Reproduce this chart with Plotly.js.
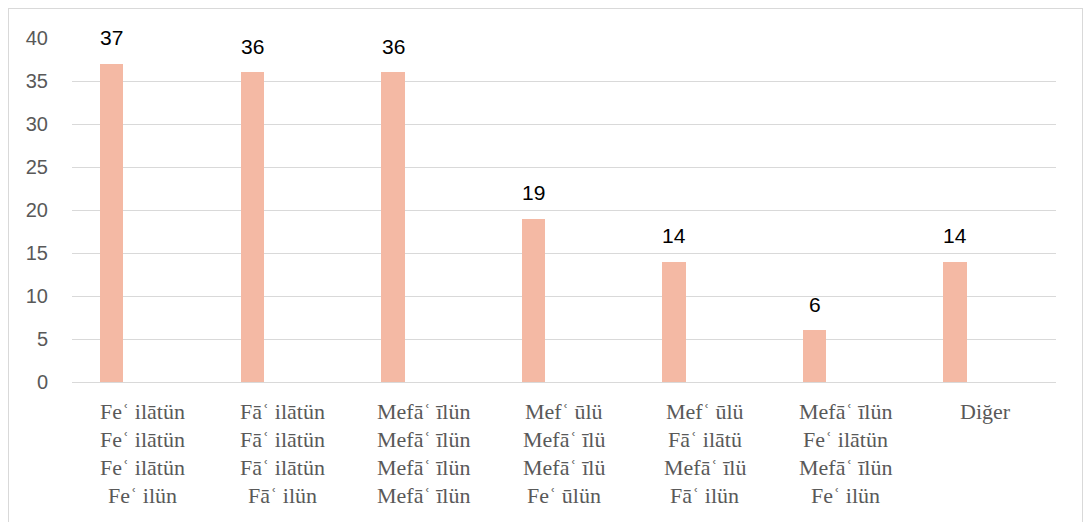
<!DOCTYPE html>
<html>
<head>
<meta charset="utf-8">
<script src="https://cdn.plot.ly/plotly-3.0.1.min.js"></script>
<style>
  html, body { margin: 0; padding: 0; background: #fff; }
  #wrap { position: relative; width: 1085px; height: 522px; overflow: hidden; }
  #chart { position: absolute; left: 0; top: 0; width: 1085px; height: 522px; }
  #frame { position: absolute; left: 8px; top: 8px; width: 1075px; height: 530px;
           border: 1px solid #d9d9d9; box-sizing: border-box; pointer-events: none; }
</style>
</head>
<body>
<div id="wrap">
  <div id="chart"></div>
  <div id="frame"></div>
</div>
<script>
// Category label lines (each category is a stack of meter feet)
const categoryLines = [
  ["Feʿ ilātün", "Feʿ ilātün", "Feʿ ilātün", "Feʿ ilün"],
  ["Fāʿ ilātün", "Fāʿ ilātün", "Fāʿ ilātün", "Fāʿ ilün"],
  ["Mefāʿ īlün", "Mefāʿ īlün", "Mefāʿ īlün", "Mefāʿ īlün"],
  ["Mefʿ ūlü", "Mefāʿ īlü", "Mefāʿ īlü", "Feʿ ūlün"],
  ["Mefʿ ūlü", "Fāʿ ilātü", "Mefāʿ īlü", "Fāʿ ilün"],
  ["Mefāʿ īlün", "Feʿ ilātün", "Mefāʿ īlün", "Feʿ ilün"],
  ["Diğer"]
];
const categories = categoryLines.map(l => l.join(" / "));
const counts = [37, 36, 36, 19, 14, 6, 14];
const yTicks = [0, 5, 10, 15, 20, 25, 30, 35, 40];

const barColor = "#F4B9A4";
const gray = "#595959";

const trace = {
  type: "bar",
  x: categories,
  y: counts,
  width: 0.167,
  offset: -0.301,
  marker: { color: barColor, line: { width: 0 } },
  hoverinfo: "skip"
};

const annotations = [];
// data labels
categories.forEach((c, i) => {
  annotations.push({
    x: c, y: counts[i], xref: "x", yref: "y",
    text: String(counts[i]), showarrow: false,
    xanchor: "center", yanchor: "middle",
    xshift: -30.3, yshift: 26,
    font: { family: "Liberation Sans, Arial, sans-serif", size: 21, color: "#000000" }
  });
});
// category labels, one annotation per line
categoryLines.forEach((lines, i) => {
  lines.forEach((ln, j) => {
    annotations.push({
      x: categories[i], y: 0, xref: "x", yref: "paper",
      text: ln, showarrow: false,
      xanchor: "center", yanchor: "middle",
      yshift: -(29 + 28 * j),
      font: { family: "Liberation Serif, Times New Roman, serif", size: 22, color: gray }
    });
  });
});

const layout = {
  width: 1085, height: 522,
  margin: { l: 72, r: 29, t: 38, b: 140, pad: 0 },
  paper_bgcolor: "#ffffff",
  plot_bgcolor: "#ffffff",
  showlegend: false,
  xaxis: {
    type: "category",
    categoryorder: "array",
    categoryarray: categories,
    range: [-0.5, 6.5],
    showticklabels: false,
    showgrid: false,
    zeroline: false,
    showline: true,
    linecolor: "#d9d9d9",
    linewidth: 1,
    ticks: ""
  },
  yaxis: {
    range: [0, 40],
    tickvals: yTicks,
    ticktext: yTicks.map(String),
    showgrid: true,
    gridcolor: "#d9d9d9",
    gridwidth: 1,
    zeroline: false,
    showline: false,
    ticks: "",
    ticklabelstandoff: 23,
    tickfont: { family: "Liberation Sans, Arial, sans-serif", size: 20, color: gray }
  },
  bargap: 0,
  annotations: annotations
};

Plotly.newPlot("chart", [trace], layout, { staticPlot: true, displayModeBar: false });
</script>
</body>
</html>
